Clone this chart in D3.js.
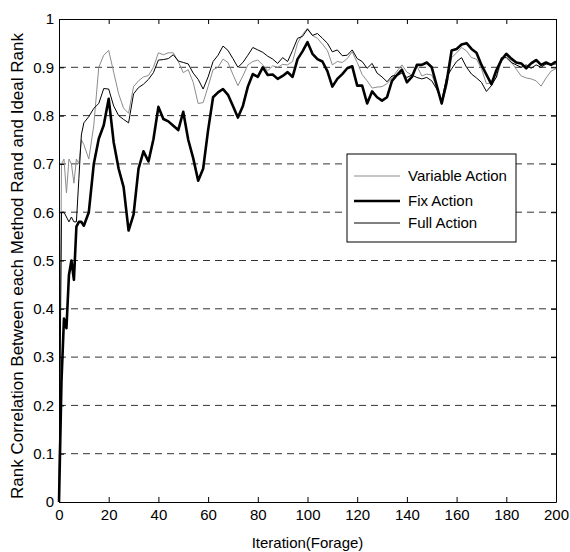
<!DOCTYPE html>
<html>
<head>
<meta charset="utf-8">
<script src="https://cdn.jsdelivr.net/npm/d3@7"></script>
<style>
    body { margin: 0; background: #fff; }
    svg text { font-family: "Liberation Sans", Arial, sans-serif; fill: #000; }
</style>
</head>
<body>
<div id="chart"></div>
<script>
// iteration numbers shared by every series
const iterations = [0, 1, 2, 3, 4, 5, 6, 7, 8, 9, 10,
    12, 14, 16, 18, 20, 22, 24, 26, 28, 30, 32, 34, 36, 38, 40, 42, 44, 46, 48, 50,
    52, 54, 56, 58, 60, 62, 64, 66, 68, 70, 72, 74, 76, 78, 80, 82, 84, 86, 88, 90,
    92, 94, 96, 98, 100, 102, 104, 106, 108, 110, 112, 114, 116, 118, 120, 122, 124, 126, 128, 130,
    132, 134, 136, 138, 140, 142, 144, 146, 148, 150, 152, 154, 156, 158, 160, 162, 164, 166, 168, 170,
    172, 174, 176, 178, 180, 182, 184, 186, 188, 190, 192, 194, 196, 198, 200];

const variableAction = [0, 0.70, 0.71, 0.64, 0.71, 0.70, 0.66, 0.71, 0.70, 0.75, 0.74,
    0.71, 0.78, 0.90, 0.925, 0.935, 0.89, 0.845, 0.815, 0.805, 0.86, 0.872, 0.88, 0.883, 0.90, 0.93, 0.926, 0.93, 0.93, 0.912, 0.889,
    0.895, 0.869, 0.825, 0.827, 0.86, 0.895, 0.90, 0.917, 0.91, 0.885, 0.862, 0.882, 0.905, 0.912, 0.915, 0.905, 0.893, 0.903, 0.90, 0.906,
    0.905, 0.912, 0.95, 0.968, 0.981, 0.966, 0.96, 0.948, 0.935, 0.905, 0.912, 0.91, 0.918, 0.932, 0.91, 0.885, 0.872, 0.857, 0.859, 0.86,
    0.866, 0.878, 0.892, 0.905, 0.89, 0.884, 0.903, 0.882, 0.886, 0.884, 0.859, 0.823, 0.86, 0.92, 0.93, 0.941, 0.934, 0.92, 0.917, 0.897,
    0.866, 0.868, 0.878, 0.912, 0.925, 0.911, 0.896, 0.882, 0.878, 0.876, 0.872, 0.861, 0.878, 0.892, 0.897];

const fixAction = [0, 0.25, 0.38, 0.36, 0.47, 0.50, 0.46, 0.57, 0.58, 0.58, 0.572,
    0.60, 0.70, 0.752, 0.78, 0.835, 0.745, 0.69, 0.652, 0.562, 0.595, 0.69, 0.726, 0.705, 0.751, 0.818, 0.793, 0.788, 0.779, 0.77, 0.808,
    0.75, 0.712, 0.665, 0.69, 0.77, 0.838, 0.848, 0.855, 0.843, 0.82, 0.796, 0.82, 0.86, 0.886, 0.88, 0.90, 0.884, 0.885, 0.876, 0.882,
    0.89, 0.88, 0.917, 0.933, 0.952, 0.928, 0.917, 0.912, 0.892, 0.86, 0.876, 0.886, 0.898, 0.902, 0.862, 0.862, 0.825, 0.85, 0.838, 0.831,
    0.838, 0.872, 0.884, 0.895, 0.869, 0.88, 0.905, 0.905, 0.91, 0.90, 0.862, 0.825, 0.87, 0.935, 0.938, 0.947, 0.95, 0.938, 0.93, 0.905,
    0.885, 0.865, 0.894, 0.915, 0.928, 0.918, 0.91, 0.908, 0.898, 0.908, 0.915, 0.905, 0.91, 0.905, 0.912];

const fullAction = [0, 0.60, 0.60, 0.59, 0.58, 0.59, 0.58, 0.58, 0.67, 0.76, 0.785,
    0.798, 0.815, 0.825, 0.856, 0.855, 0.82, 0.80, 0.792, 0.785, 0.845, 0.858, 0.865, 0.875, 0.889, 0.915, 0.916, 0.918, 0.926, 0.913, 0.91,
    0.907, 0.888, 0.875, 0.855, 0.88, 0.912, 0.925, 0.944, 0.935, 0.918, 0.90, 0.91, 0.925, 0.941, 0.936, 0.931, 0.923, 0.917, 0.908, 0.92,
    0.912, 0.935, 0.96, 0.964, 0.979, 0.966, 0.97, 0.96, 0.95, 0.932, 0.936, 0.924, 0.925, 0.936, 0.918, 0.912, 0.898, 0.908, 0.888, 0.88,
    0.87, 0.882, 0.883, 0.888, 0.879, 0.884, 0.879, 0.876, 0.879, 0.872, 0.855, 0.83, 0.88, 0.897, 0.912, 0.92, 0.90, 0.886, 0.878, 0.869,
    0.85, 0.862, 0.88, 0.92, 0.92, 0.91, 0.905, 0.90, 0.905, 0.898, 0.905, 0.90, 0.907, 0.906, 0.907];

const xTicks = [0, 20, 40, 60, 80, 100, 120, 140, 160, 180, 200];
const yTicks = [0, 0.1, 0.2, 0.3, 0.4, 0.5, 0.6, 0.7, 0.8, 0.9, 1];
const legendLabels = ['Variable Action', 'Fix Action', 'Full Action'];

(function() {
    'use strict';

    const width = 570, height = 552;
    const margin = { top: 19, right: 14, bottom: 50, left: 59 };
    const innerW = width - margin.left - margin.right;
    const innerH = height - margin.top - margin.bottom;

    const series = [
        { name: legendLabels[0], values: variableAction, color: '#8c8c8c', width: 1 },
        { name: legendLabels[1], values: fixAction, color: '#000', width: 2.6 },
        { name: legendLabels[2], values: fullAction, color: '#000', width: 1 }
    ];

    const svg = d3.select('#chart').append('svg')
        .attr('width', width)
        .attr('height', height);

    const g = svg.append('g').attr('transform', `translate(${margin.left},${margin.top})`);

    const x = d3.scaleLinear().domain([0, 200]).range([0, innerW]);
    const y = d3.scaleLinear().domain([0, 1]).range([innerH, 0]);

    // dashed horizontal grid
    g.append('g')
        .selectAll('line')
        .data(yTicks.filter(t => t > 0 && t < 1))
        .enter().append('line')
        .attr('x1', 0).attr('x2', innerW)
        .attr('y1', d => y(d)).attr('y2', d => y(d))
        .attr('stroke', '#333')
        .attr('stroke-width', 1)
        .attr('stroke-dasharray', '7,5');

    const line = d3.line()
        .x((d, i) => x(iterations[i]))
        .y(d => y(d));

    series.forEach(s => {
        g.append('path')
            .datum(s.values)
            .attr('fill', 'none')
            .attr('stroke', s.color)
            .attr('stroke-width', s.width)
            .attr('stroke-linejoin', 'round')
            .attr('d', line);
    });

    // axes, ticks pointing inward
    const tickFont = '15px';
    const xAxis = g.append('g')
        .attr('transform', `translate(0,${innerH})`)
        .call(d3.axisBottom(x).tickValues(xTicks).tickSizeInner(-5).tickSizeOuter(0).tickPadding(7));
    g.append('g')
        .call(d3.axisTop(x).tickValues(xTicks).tickSizeInner(-5).tickSizeOuter(0).tickFormat(''));
    const yAxis = g.append('g')
        .call(d3.axisLeft(y).tickValues(yTicks).tickSizeInner(-5).tickSizeOuter(0).tickPadding(5)
            .tickFormat(d => d === 0 || d === 1 ? d3.format('d')(d) : d3.format('.1f')(d)));
    g.append('g')
        .attr('transform', `translate(${innerW},0)`)
        .call(d3.axisRight(y).tickValues(yTicks).tickSizeInner(-5).tickSizeOuter(0).tickFormat(''));

    g.selectAll('.domain').attr('stroke', '#000');
    g.selectAll('.tick line').attr('stroke', '#000');
    [xAxis, yAxis].forEach(a => a.selectAll('text')
        .style('font-size', tickFont)
        .style('font-family', '"Liberation Sans", Arial, sans-serif')
        .attr('fill', '#000'));

    // axis titles
    svg.append('text')
        .attr('x', margin.left + innerW / 2)
        .attr('y', 548)
        .attr('text-anchor', 'middle')
        .style('font-size', '15px')
        .text('Iteration(Forage)');

    svg.append('text')
        .attr('transform', 'translate(23,266) rotate(-90)')
        .attr('text-anchor', 'middle')
        .style('font-size', '17px')
        .text('Rank Correlation Between each Method Rand and Ideal Rank');

    // legend
    const legend = svg.append('g').attr('transform', 'translate(347,154)');
    legend.append('rect')
        .attr('width', 169).attr('height', 88)
        .attr('fill', '#fff')
        .attr('stroke', '#000')
        .attr('stroke-width', 1);
    const rowY = [22, 47, 69];
    series.forEach((s, i) => {
        legend.append('line')
            .attr('x1', 7).attr('x2', 53)
            .attr('y1', rowY[i]).attr('y2', rowY[i])
            .attr('stroke', s.color)
            .attr('stroke-width', s.width);
        legend.append('text')
            .attr('x', 61).attr('y', rowY[i] + 5)
            .style('font-size', '15px')
            .text(s.name);
    });
})();
</script>
</body>
</html>
